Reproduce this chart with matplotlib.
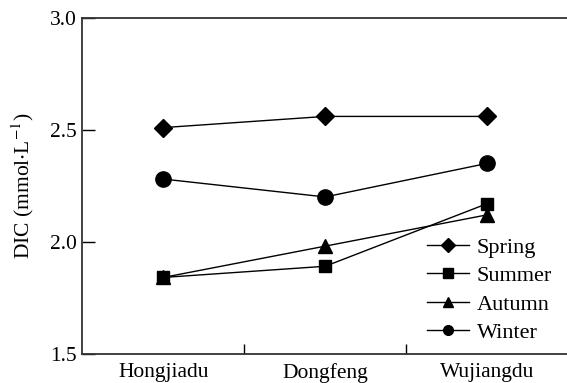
import numpy as np
import matplotlib
matplotlib.use("Agg")
import matplotlib.pyplot as plt
from matplotlib.lines import Line2D

plt.rcParams['font.family'] = ['Liberation Serif', 'DejaVu Serif']
plt.rcParams['mathtext.fontset'] = 'stix'

sites = ['Hongjiadu', 'Dongfeng', 'Wujiangdu']
spring = [2.51, 2.56, 2.56]
summer = [1.84, 1.89, 2.17]
autumn = [1.84, 1.98, 2.12]
winter = [2.28, 2.20, 2.35]

seasons = ['Spring', 'Summer', 'Autumn', 'Winter']
markers = ['D', 's', '^', 'o']
msizes = [9, 9, 10, 11]

fig = plt.figure(figsize=(5.67, 3.83), dpi=100)
ax = fig.add_axes([0.145, 0.077, 0.857, 0.876])

x = np.arange(len(sites)) + 0.5
for vals, m, ms in zip([spring, summer, autumn, winter], markers, msizes):
    ax.plot(x, vals, color='k', lw=1.0, marker=m, ms=ms)

ax.set_xlim(0, 3)
ax.set_ylim(1.5, 3.0)
ax.set_yticks([1.5, 2.0, 2.5, 3.0])
ax.set_yticklabels(['1.5', '2.0', '2.5', '3.0'])
ax.set_xticks([1, 2])
ax.set_xticklabels([])
ax.set_xticks(x, minor=True)
ax.set_xticklabels(sites, minor=True)
ax.tick_params(axis='x', which='minor', length=0, pad=7, labelsize=15.5)
ax.tick_params(axis='x', which='major', direction='in', length=7, width=1)
ax.tick_params(axis='y', direction='in', length=9, width=1, labelsize=15.5, pad=4)
ax.set_ylabel(r'DIC (mmol$\cdot$L$^{-1}$)', fontsize=15.5, labelpad=10)

ax.spines['right'].set_visible(False)
for s in ['left', 'top', 'bottom']:
    ax.spines[s].set_linewidth(1.3)
    ax.spines[s].set_color('#333333')

handles = [Line2D([], [], color='k', lw=1.0, marker=m, ms=7) for m in markers]
ax.legend(handles, seasons, loc='lower right', bbox_to_anchor=(0.985, 0.005),
          borderaxespad=0, frameon=False, fontsize=16, handlelength=1.9,
          handletextpad=0.35, labelspacing=0.35)

fig.savefig('out.png', dpi=100)
